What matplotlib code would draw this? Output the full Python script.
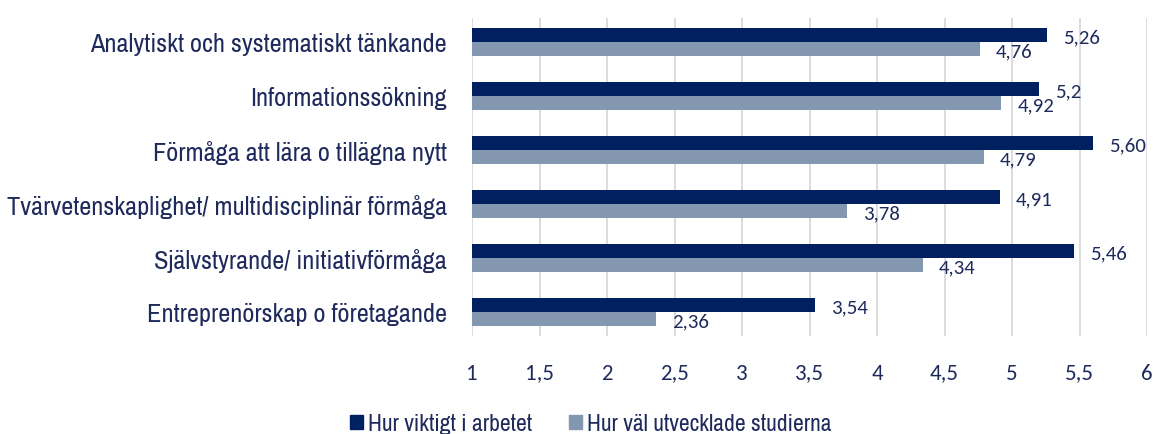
import matplotlib
matplotlib.use("Agg")
import matplotlib.pyplot as plt
import numpy as np
from matplotlib.patches import Patch

categories = [
    "Analytiskt och systematiskt tänkande",
    "Informationssökning",
    "Förmåga att lära o tillägna nytt",
    "Tvärvetenskaplighet/ multidisciplinär förmåga",
    "Självstyrande/ initiativförmåga",
    "Entreprenörskap o företagande",
]
viktigt = [5.26, 5.2, 5.60, 4.91, 5.46, 3.54]
utvecklade = [4.76, 4.92, 4.79, 3.78, 4.34, 2.36]
viktigt_lbl = ["5,26", "5,2", "5,60", "4,91", "5,46", "3,54"]
utvecklade_lbl = ["4,76", "4,92", "4,79", "3,78", "4,34", "2,36"]
series_names = ["Hur viktigt i arbetet", "Hur väl utvecklade studierna"]
xticks = [1, 1.5, 2, 2.5, 3, 3.5, 4, 4.5, 5, 5.5, 6]
xtick_lbl = ["1", "1,5", "2", "2,5", "3", "3,5", "4", "4,5", "5", "5,5", "6"]

DARK = "#002060"
LIGHT = "#8497B0"
TEXT = "#1F2A5C"
NARROW = ["Archivo Narrow", "Liberation Sans"]
CAL = ["Carlito", "Lato", "DejaVu Sans"]

fig = plt.figure(figsize=(11.56, 4.35), dpi=100)
ax = fig.add_axes([0.4083, 0.225, 0.584, 0.732])

y = np.arange(len(categories))
h = 0.26
ax.barh(y - h / 2, [v - 1 for v in viktigt], left=1, height=h, color=DARK, zorder=3)
ax.barh(y + h / 2, [v - 1 for v in utvecklade], left=1, height=h, color=LIGHT, zorder=3)

for i in range(len(categories)):
    ax.annotate(viktigt_lbl[i], (viktigt[i], y[i] - h / 2), xytext=(11.5, -1.5),
                textcoords="offset points", va="center", ha="left",
                fontsize=15, color=TEXT, family=CAL)
    ax.annotate(utvecklade_lbl[i], (utvecklade[i], y[i] + h / 2), xytext=(11.5, -1.5),
                textcoords="offset points", va="center", ha="left",
                fontsize=15, color=TEXT, family=CAL)

ax.set_xlim(1, 6)
ax.set_ylim(5.45, -0.45)
ax.set_xticks(xticks)
ax.set_xticklabels(xtick_lbl, family=CAL, fontsize=16.5, color=TEXT)
ax.set_yticks(y)
ax.set_yticklabels(categories, family=NARROW, fontsize=19, color=TEXT)
ax.tick_params(axis="x", length=0, pad=19)
ax.tick_params(axis="y", length=0, pad=18)
ax.grid(axis="x", color="#D9D9D9", linewidth=1.3, zorder=0)
for s in ax.spines.values():
    s.set_visible(False)

handles = [Patch(color=DARK), Patch(color=LIGHT)]
fig.legend(handles, series_names, loc="lower left", bbox_to_anchor=(0.2922, -0.028),
           ncol=2, frameon=False, prop={"family": NARROW, "size": 17},
           handlelength=0.55, handleheight=0.55, handletextpad=0.21, columnspacing=1.6,
           borderpad=0, labelcolor=TEXT)

fig.savefig("out.png", dpi=100)
